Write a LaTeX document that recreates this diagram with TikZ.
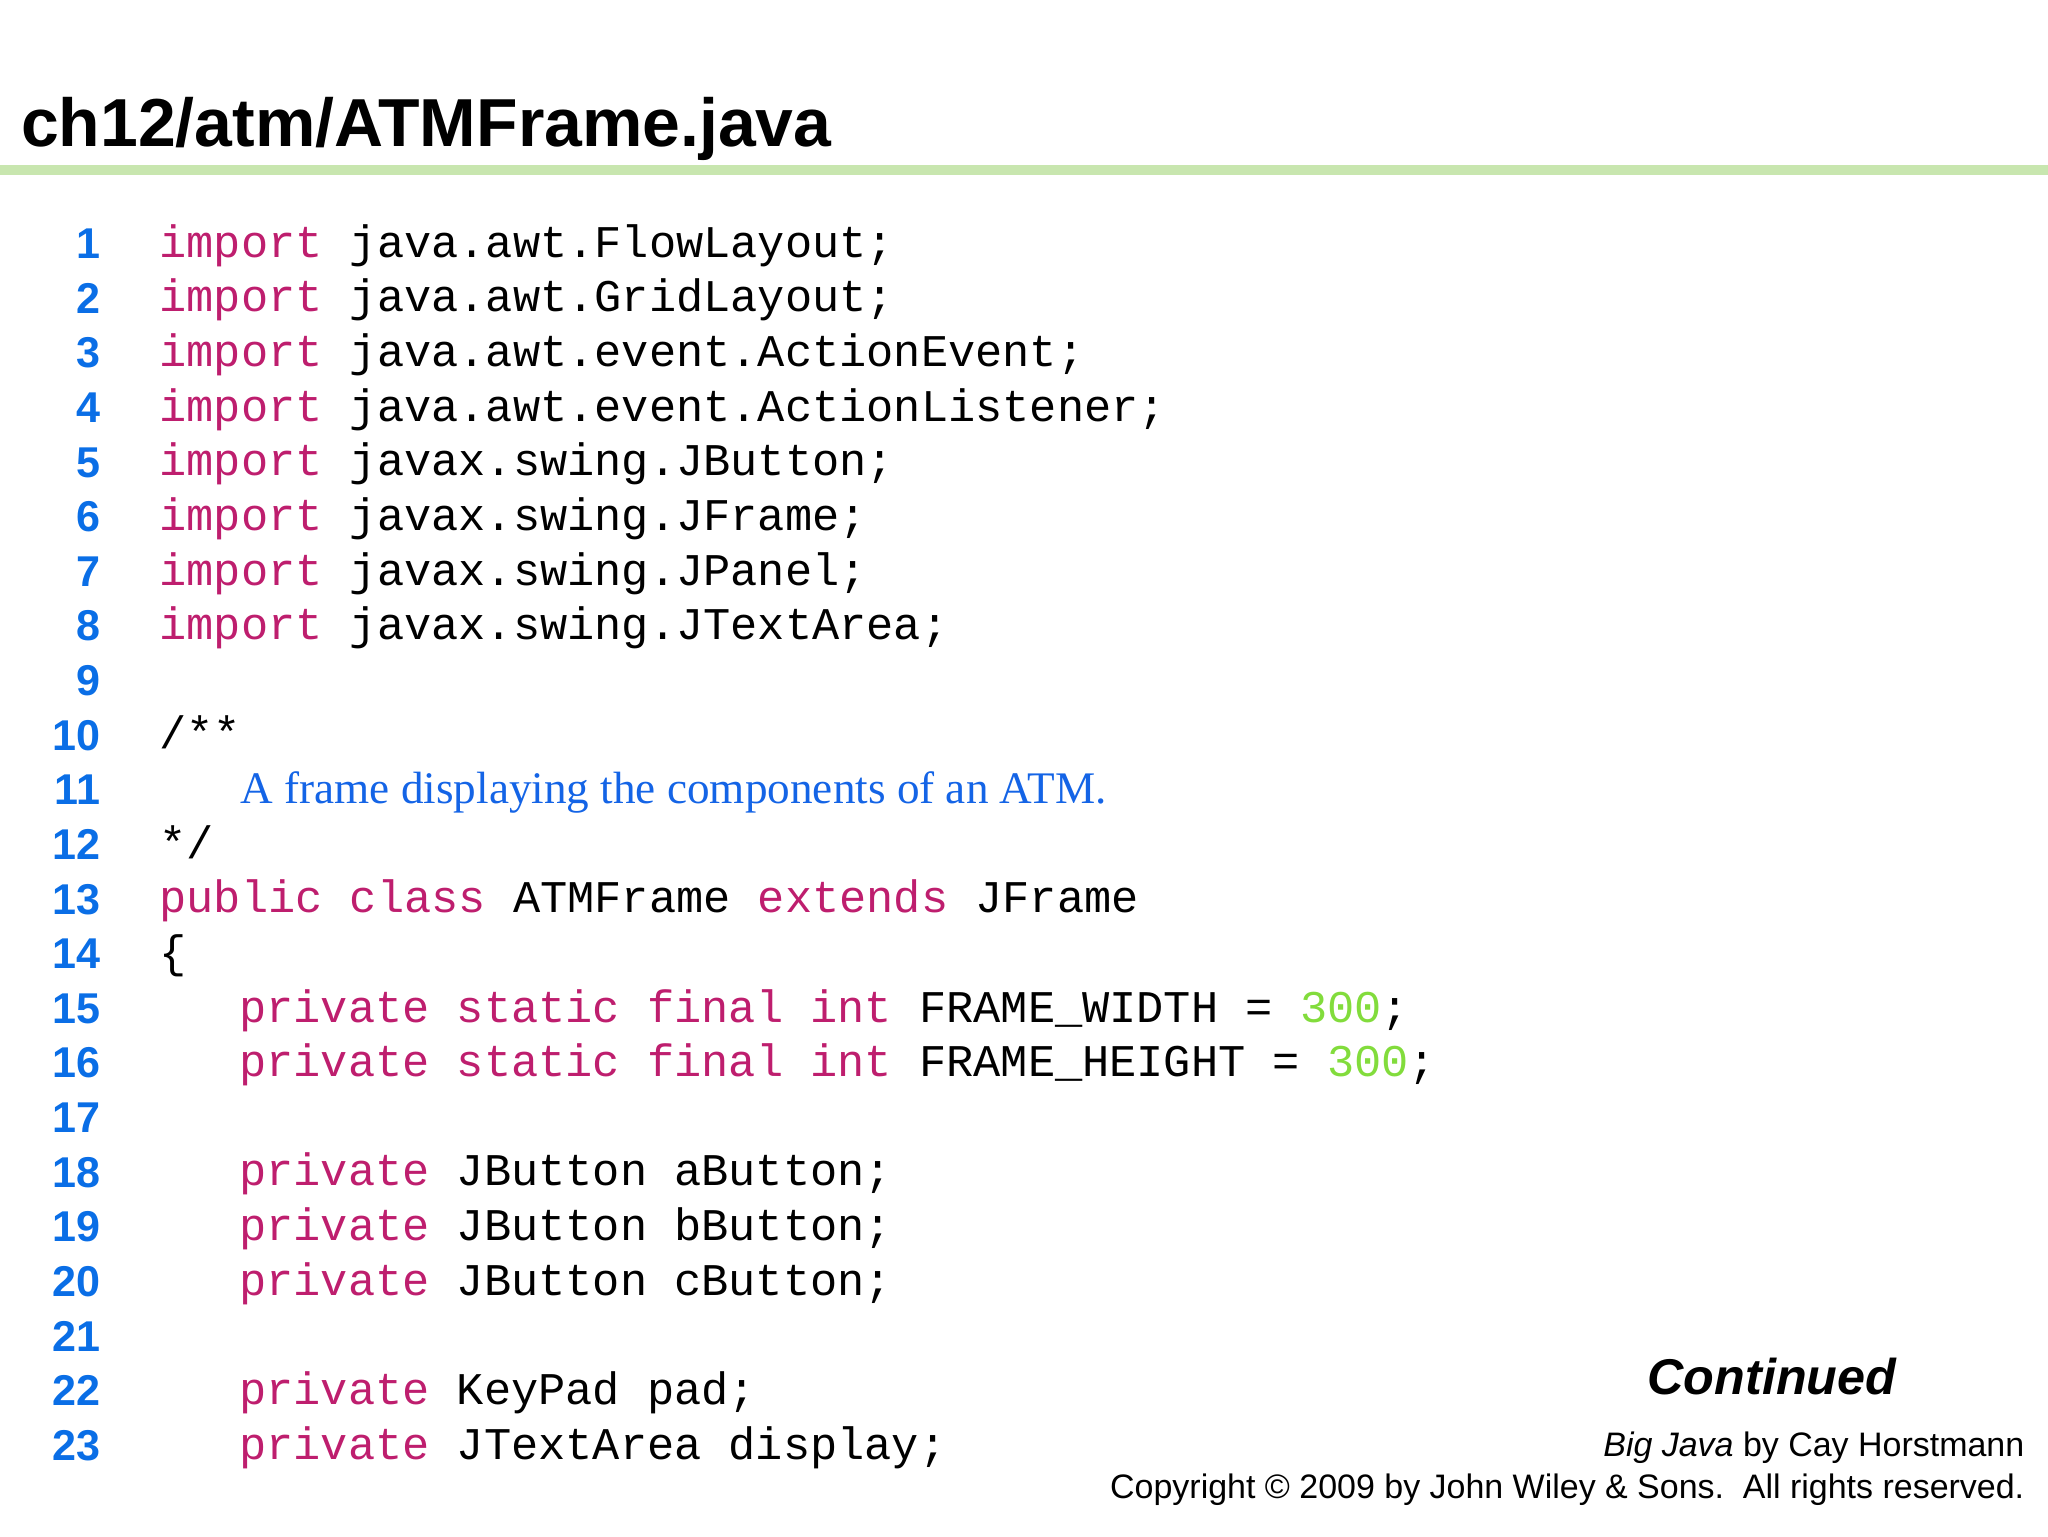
\documentclass[tikz,border=0pt]{standalone}
\usepackage{fontspec}
\setmainfont{Liberation Sans}
\newfontfamily\mono{Liberation Mono}
\newfontfamily\serif{Liberation Serif}
\definecolor{kw}{RGB}{190,30,110}
\definecolor{num}{RGB}{130,220,60}
\definecolor{lno}{RGB}{10,110,230}
\definecolor{cmt}{RGB}{20,100,230}
\definecolor{bar}{RGB}{200,230,175}
\newcommand{\kw}[1]{\textcolor{kw}{#1}}
\newcommand{\nm}[1]{\textcolor{num}{#1}}
\begin{document}
\begin{tikzpicture}[x=1pt,y=-1pt,
  code/.style={anchor=base west,inner sep=0pt,font=\mono\fontsize{34.7}{40}\selectfont},
  ln/.style={anchor=base east,inner sep=0pt,font=\bfseries\fontsize{33}{38}\selectfont,text=lno}]
\useasboundingbox (0,0) rectangle (1568,1176);
\node[anchor=base west,inner sep=0pt,font=\bfseries\fontsize{52}{60}\selectfont] (title) at (16,112) {ch12/atm/ATMFrame.java};
\fill[bar] (0,126) rectangle (1568,134);
\foreach \i in {1,...,23} {
  \node[ln] (n\i) at (77,{186+(\i-1)*41.82+12}) {\i};
}
\def\Y#1{{186+(#1-1)*41.82+11}}
\node[code] (c1) at (122,\Y1) {\kw{import} java.awt.FlowLayout;};
\node[code] (c2) at (122,\Y2) {\kw{import} java.awt.GridLayout;};
\node[code] (c3) at (122,\Y3) {\kw{import} java.awt.event.ActionEvent;};
\node[code] (c4) at (122,\Y4) {\kw{import} java.awt.event.ActionListener;};
\node[code] (c5) at (122,\Y5) {\kw{import} javax.swing.JButton;};
\node[code] (c6) at (122,\Y6) {\kw{import} javax.swing.JFrame;};
\node[code] (c7) at (122,\Y7) {\kw{import} javax.swing.JPanel;};
\node[code] (c8) at (122,\Y8) {\kw{import} javax.swing.JTextArea;};
\node[code] (c10) at (122,\Y{10}) {/**};
\node[anchor=base west,inner sep=0pt,font=\serif\fontsize{34.6}{40}\selectfont,text=cmt] (c11) at (184,\Y{11}) {A frame displaying the components of an ATM.};
\node[code] (c12) at (122,\Y{12}) {*/};
\node[code] (c13) at (122,\Y{13}) {\kw{public} \kw{class} ATMFrame \kw{extends} JFrame};
\node[code] (c14) at (122,\Y{14}) {\{};
\node[code] (c15) at (183,\Y{15}) {\kw{private} \kw{static} \kw{final} \kw{int} FRAME\_WIDTH = \nm{300};};
\node[code] (c16) at (183,\Y{16}) {\kw{private} \kw{static} \kw{final} \kw{int} FRAME\_HEIGHT = \nm{300};};
\node[code] (c18) at (183,\Y{18}) {\kw{private} JButton aButton;};
\node[code] (c19) at (183,\Y{19}) {\kw{private} JButton bButton;};
\node[code] (c20) at (183,\Y{20}) {\kw{private} JButton cButton;};
\node[code] (c22) at (183,\Y{22}) {\kw{private} KeyPad pad;};
\node[code] (c23) at (183,\Y{23}) {\kw{private} JTextArea display;};
\node[anchor=base east,inner sep=0pt,font=\bfseries\itshape\fontsize{38.5}{44}\selectfont] (cont) at (1452,1068) {Continued};
\node[anchor=base east,inner sep=0pt,font=\fontsize{26}{30}\selectfont] (bj) at (1550,1115) {\textit{Big Java} by Cay Horstmann};
\node[anchor=base east,inner sep=0pt,font=\fontsize{26}{30}\selectfont] (cp) at (1550,1147) {Copyright © 2009 by John Wiley \& Sons.\ \ All rights reserved.};
\end{tikzpicture}
\end{document}
